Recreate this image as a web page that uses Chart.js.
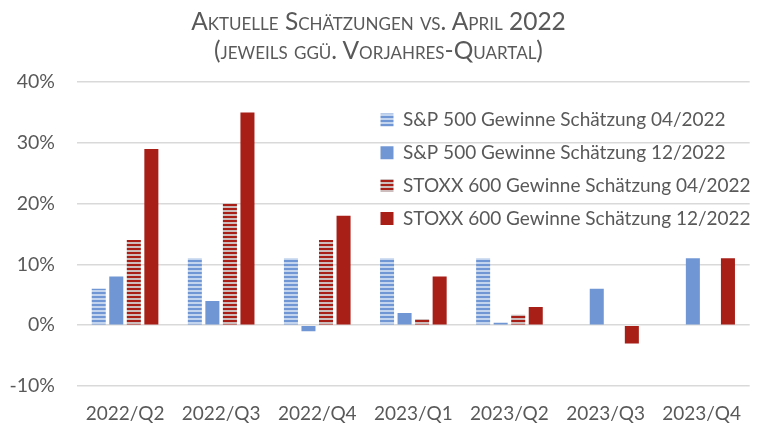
<!DOCTYPE html>
<html>
<head>
<meta charset="utf-8">
<script src="https://cdn.jsdelivr.net/npm/chart.js@4/dist/chart.umd.min.js"></script>
<style>
	html, body { margin: 0; padding: 0; background: #fff; }
	#wrap { position: relative; width: 757px; height: 428px; }
	#title {
		position: absolute; left: 0; top: 6px; width: 757px;
		text-align: center; color: #595959;
		font-family: Lato, sans-serif; font-size: 24.5px; line-height: 29px;
		font-variant: small-caps;
	}
	canvas { position: absolute; left: 0; top: 0; }
</style>
</head>
<body>
<div id="wrap">
	<canvas id="chart" width="757" height="428"></canvas>
	<div id="title">Aktuelle Schätzungen vs. April 2022<br>(jeweils ggü. Vorjahres-Quartal)</div>
</div>
<script>
const quarters = ['2022/Q2', '2022/Q3', '2022/Q4', '2023/Q1', '2023/Q2', '2023/Q3', '2023/Q4'];
const spApr = [6, 11, 11, 11, 11, null, null];
const spDec = [8, 4, -1, 2, 0.4, 6, 11];
const stoxxApr = [14, 20, 14, 1, 1.7, null, null];
const stoxxDec = [29, 35, 18, 8, 3, -3, 11];
const yTicks = [-10, 0, 10, 20, 30, 40];

const blue = '#7097D4';
const red = '#A81F18';

function stripes(dark, light) {
	const c = document.createElement('canvas');
	c.width = 4;
	c.height = 4;
	const g = c.getContext('2d');
	g.fillStyle = light;
	g.fillRect(0, 0, 4, 4);
	g.fillStyle = dark;
	g.fillRect(0, 0, 4, 2);
	return g.createPattern(c, 'repeat');
}

const font = 'Lato, sans-serif';
const grey = '#595959';

// legend sits inside the plot, to the right
const legendMove = {
	id: 'legendMove',
	afterLayout(chart) {
		const lg = chart.legend;
		const w = lg.right - lg.left;
		lg.left = 366.7;
		lg.right = lg.left + w;
		lg.top = chart.chartArea.top + 14.7;
	}
};

const ctx = document.getElementById('chart').getContext('2d');
new Chart(ctx, {
	type: 'bar',
	data: {
		labels: quarters,
		datasets: [{
			label: 'S&P 500 Gewinne Schätzung 04/2022',
			data: spApr,
			backgroundColor: stripes(blue, '#C3D4EF')
		}, {
			label: 'S&P 500 Gewinne Schätzung 12/2022',
			data: spDec,
			backgroundColor: blue
		}, {
			label: 'STOXX 600 Gewinne Schätzung 04/2022',
			data: stoxxApr,
			backgroundColor: stripes(red, '#CDBDBC')
		}, {
			label: 'STOXX 600 Gewinne Schätzung 12/2022',
			data: stoxxDec,
			backgroundColor: red
		}]
	},
	options: {
		responsive: false,
		animation: false,
		categoryPercentage: 0.73,
		barPercentage: 0.8,
		layout: { padding: { top: 82, right: 0, left: 0, bottom: 0 } },
		plugins: {
			title: { display: false },
			tooltip: { enabled: false },
			legend: {
				position: 'chartArea',
				align: 'start',
				labels: {
					boxWidth: 13,
					boxHeight: 13,
					padding: 13.8,
					color: grey,
					font: { family: font, size: 19 }
				}
			}
		},
		scales: {
			x: {
				afterFit(scale) {
					scale.height = 42;
				},
				grid: { display: false, drawTicks: false },
				border: { display: false },
				ticks: { color: grey, padding: 16, font: { family: font, size: 19 } }
			},
			y: {
				min: -10,
				max: 40,
				afterBuildTicks(scale) {
					scale.ticks = yTicks.map(v => ({ value: v }));
				},
				afterFit(scale) {
					scale.width = 77;
				},
				grid: { color: '#D9D9D9', lineWidth: 1.5, drawTicks: false },
				border: { display: false },
				ticks: {
					color: grey,
					padding: 22,
					font: { family: font, size: 19.5 },
					callback: v => v + '%'
				}
			}
		}
	},
	plugins: [legendMove]
});
</script>
</body>
</html>
